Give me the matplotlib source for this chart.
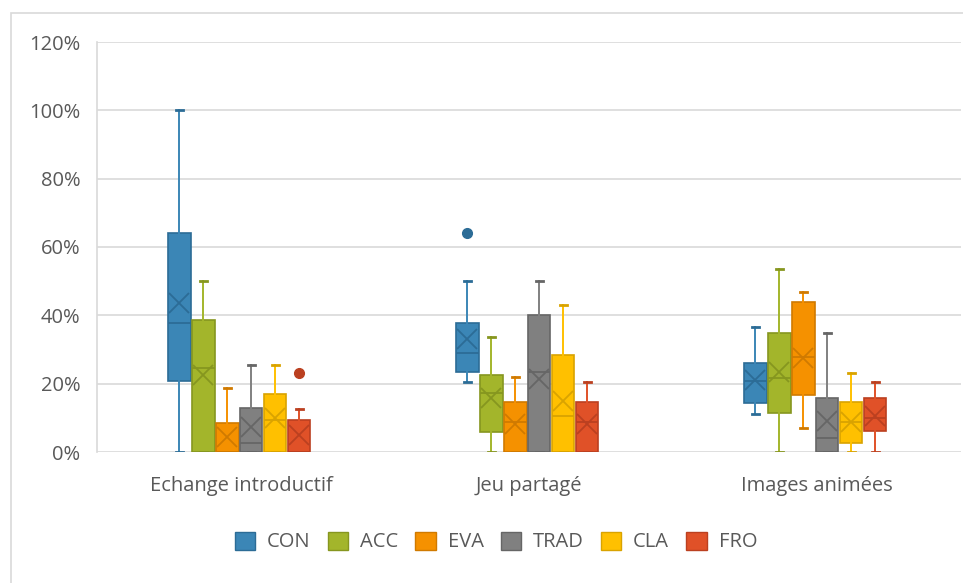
import matplotlib
matplotlib.use("Agg")
import matplotlib.pyplot as plt
from matplotlib.patches import Patch, Rectangle
from matplotlib.ticker import FuncFormatter

plt.rcParams['font.family'] = ['Open Sans', 'DejaVu Sans']

categories = ["Echange introductif", "Jeu partagé", "Images animées"]
series = ["CON", "ACC", "EVA", "TRAD", "CLA", "FRO"]
fill_colors = ["#3B86B6", "#A3B52B", "#F59100", "#808080", "#FFC000", "#E05128"]
edge_colors = ["#2C6C96", "#86961F", "#D07A00", "#666666", "#D9A300", "#BB4020"]

# values in % : rows = series, columns = categories
whis_hi = [[100, 50, 36.6], [50, 33.6, 53.6], [18.6, 22, 46.7], [25.4, 50, 34.7], [25.4, 43, 23], [12.6, 20.4, 20.4]]
q3 = [[64, 37.8, 26.1], [38.6, 22.4, 34.7], [8.6, 14.5, 43.8], [13, 40, 15.7], [16.9, 28.4, 14.7], [9.4, 14.5, 15.7]]
median = [[37.8, 28.9, 20.9], [24.5, 17.2, 21.6], [0, 8.9, 27.9], [2.7, 23.5, 4], [9.4, 10.5, 8.9], [0, 8.9, 9.9]]
q1 = [[20.8, 23.5, 14.2], [0, 5.8, 11.3], [0, 0, 16.7], [0, 0, 0], [0, 0, 2.7], [0, 0, 6.1]]
whis_lo = [[0, 20.4, 11], [0, 0, 0], [0, 0, 6.9], [0, 0, 0], [0, 0, 0], [0, 0, 0]]
mean = [[43.5, 33, 21.2], [22.5, 15.7, 23.5], [4.5, 8.3, 27.6], [7.2, 21.5, 9.2], [9.9, 14.9, 8.9], [5, 8.3, 10.4]]
outliers = [[[], [64], []], [[], [], []], [[], [], []], [[], [], []], [[], [], []], [[23.2], [], []]]

yticks = [0, 20, 40, 60, 80, 100, 120]

W, H = 963, 583
fig = plt.figure(figsize=(W / 100, H / 100), dpi=100)
# chart border (cropped at right/bottom)
fig.patches.append(Rectangle((11 / W, -0.1), 1.2, 1 - 13 / H + 0.1, transform=fig.transFigure,
                             fill=False, edgecolor="#D9D9D9", lw=1.2))
ax = fig.add_axes([97 / W, 1 - 452 / H, (961 - 97) / W, (452 - 42) / H])

step = 0.0833
bw = 0.078
for j, s in enumerate(series):
    stats = []
    pos = []
    for i in range(len(categories)):
        stats.append(dict(med=median[j][i], q1=q1[j][i], q3=q3[j][i], whislo=whis_lo[j][i],
                          whishi=whis_hi[j][i], mean=mean[j][i], fliers=outliers[j][i]))
        pos.append(i - 0.006 + (j - 2.5) * step)
    ec = edge_colors[j]
    fc = fill_colors[j]
    ax.bxp(stats, positions=pos, widths=bw, patch_artist=True, showmeans=True,
           boxprops=dict(facecolor=fc, edgecolor=ec, linewidth=1.2),
           medianprops=dict(color=ec, linewidth=1.3),
           whiskerprops=dict(color=fc, linewidth=1.4),
           capprops=dict(color=ec, linewidth=2),
           capwidths=0.025,
           meanprops=dict(marker='x', markeredgecolor=ec, markersize=14, markeredgewidth=1.3),
           flierprops=dict(marker='o', markerfacecolor=ec, markeredgecolor=ec, markersize=7),
           zorder=3)

ax.set_xlim(-0.5, 2.5)
ax.set_ylim(0, 120)
ax.set_yticks(yticks)
ax.yaxis.set_major_formatter(FuncFormatter(lambda v, p: f"{int(v)}%"))
ax.set_xticks(range(len(categories)))
ax.set_xticklabels(categories)
ax.grid(axis='y', color="#D9D9D9", linewidth=1.2, zorder=0)
ax.set_axisbelow(True)
for sp in ["top", "right", "bottom"]:
    ax.spines[sp].set_visible(False)
ax.spines["left"].set_color("#D9D9D9")
ax.spines["left"].set_linewidth(1.2)
ax.tick_params(axis='both', length=0, labelsize=14.5, colors="#595959")
ax.tick_params(axis='y', pad=12)
ax.tick_params(axis='x', pad=17)

handles = [Patch(facecolor=fill_colors[j], edgecolor=edge_colors[j], label=s) for j, s in enumerate(series)]
leg = fig.legend(handles=handles, loc='center', bbox_to_anchor=(496 / W, 1 - 542 / H), ncol=6,
                 frameon=False, fontsize=14.5, handlelength=1.0, handleheight=1.0,
                 handletextpad=0.6, columnspacing=0.85)
for t in leg.get_texts():
    t.set_color("#595959")

fig.savefig("out.png", dpi=100)
